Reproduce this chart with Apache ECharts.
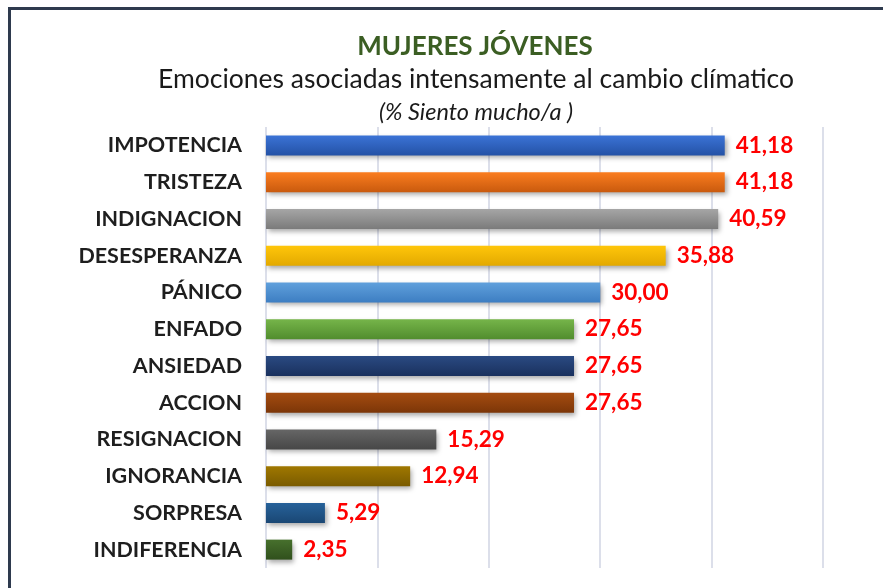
<!DOCTYPE html>
<html>
<head>
<meta charset="utf-8">
<script src="https://cdn.jsdelivr.net/npm/echarts@6/dist/echarts.min.js"></script>
<style>
  html, body { margin: 0; padding: 0; background: #fff; }
  #chart { width: 883px; height: 588px; }
  .frame-top { position: absolute; left: 8px; top: 7px; width: 875px; height: 3px; background: #2e3a4e; }
  .frame-left { position: absolute; left: 8px; top: 7px; width: 3px; height: 581px; background: #2e3a4e; }
</style>
</head>
<body>
<div id="chart"></div>
<div class="frame-top"></div>
<div class="frame-left"></div>
<script>
// categories top to bottom
const categories = ['IMPOTENCIA', 'TRISTEZA', 'INDIGNACION', 'DESESPERANZA', 'PÁNICO', 'ENFADO',
  'ANSIEDAD', 'ACCION', 'RESIGNACION', 'IGNORANCIA', 'SORPRESA', 'INDIFERENCIA']
const values = [41.18, 41.18, 40.59, 35.88, 30.00, 27.65, 27.65, 27.65, 15.29, 12.94, 5.29, 2.35]
// [top, bottom] gradient colours
const barColors = [
  ['#3b73d6', '#2452a6'],
  ['#fb7d1f', '#c95a0e'],
  ['#a6a6a6', '#7b7b7b'],
  ['#ffc60a', '#e3a900'],
  ['#60a0dc', '#3d7ec2'],
  ['#76b54a', '#518d2e'],
  ['#2a4a82', '#1a315e'],
  ['#a54c10', '#7c3608'],
  ['#666666', '#474747'],
  ['#a07800', '#7a5b00'],
  ['#27629a', '#1a4774'],
  ['#47702d', '#30501c']
]

const chart = echarts.init(document.getElementById('chart'))

chart.setOption({
  animation: false,
  title: [
    {
      text: 'MUJERES JÓVENES',
      left: 470, top: 29, textAlign: 'center',
      textStyle: { fontFamily: 'Lato', fontSize: 26, fontWeight: 'bold', color: '#3b5e23' }
    },
    {
      text: 'Emociones asociadas intensamente al cambio clímatico',
      left: 471, top: 61, textAlign: 'center',
      textStyle: { fontFamily: 'Lato', fontSize: 26.5, fontWeight: 'normal', color: '#1a1a1a' }
    },
    {
      text: '(% Siento mucho/a )',
      left: 471, top: 96, textAlign: 'center',
      textStyle: { fontFamily: 'Lato', fontSize: 23.5, fontStyle: 'italic', fontWeight: 'normal', color: '#1a1a1a' }
    }
  ],
  grid: { left: 266, right: 60, top: 127, bottom: 20 },
  xAxis: {
    type: 'value',
    min: 0, max: 50, interval: 10,
    axisLabel: { show: false },
    axisLine: { show: false },
    axisTick: { show: false },
    splitLine: { show: true, lineStyle: { color: '#dcdfea', width: 2 } }
  },
  yAxis: {
    type: 'category',
    inverse: true,
    data: categories,
    axisLine: { show: false },
    axisTick: { show: false },
    axisLabel: {
      margin: 24,
      fontFamily: 'Lato', fontSize: 21.5, fontWeight: 'bold', color: '#1e1e1e'
    }
  },
  series: [{
    type: 'bar',
    barWidth: 20,
    data: values.map((v, i) => ({
      value: v,
      itemStyle: {
        color: new echarts.graphic.LinearGradient(0, 0, 0, 1, [
          { offset: 0, color: barColors[i][0] },
          { offset: 1, color: barColors[i][1] }
        ]),
        shadowColor: 'rgba(0,0,0,0.35)',
        shadowBlur: 5,
        shadowOffsetX: 2,
        shadowOffsetY: 3
      }
    })),
    label: {
      show: true,
      position: 'right',
      distance: 11,
      formatter: p => p.value.toFixed(2).replace('.', ','),
      fontFamily: 'Lato', fontSize: 22.5, fontWeight: 'bold', color: '#ff0000'
    }
  }]
})
</script>
</body>
</html>
